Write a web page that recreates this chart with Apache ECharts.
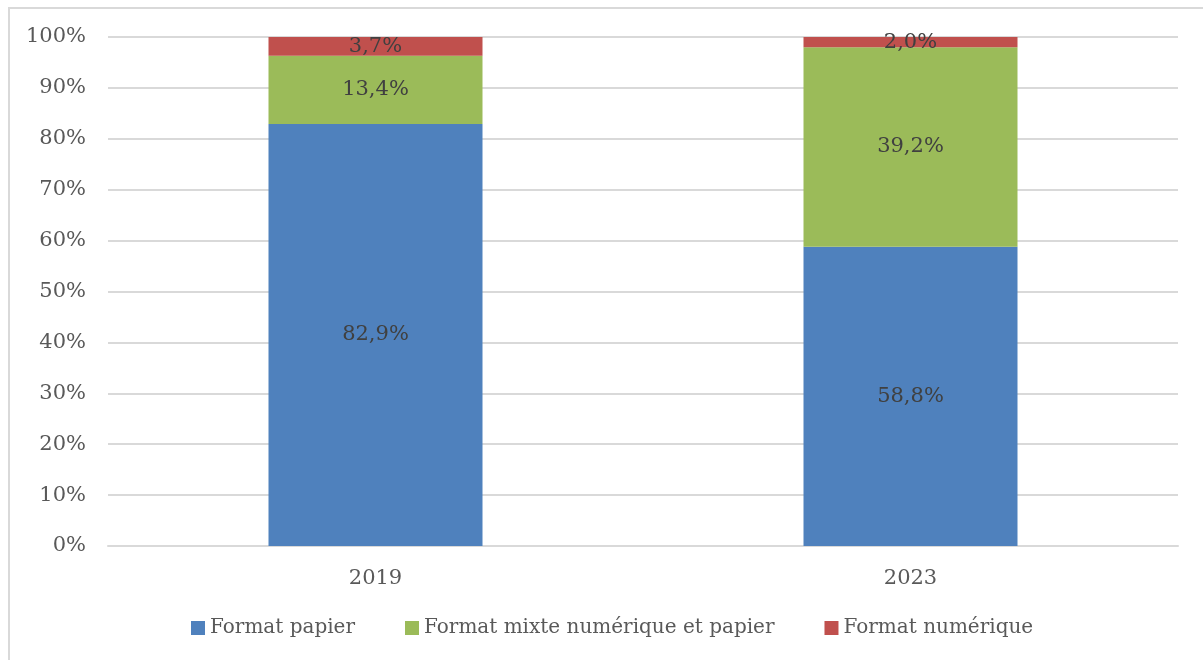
<!DOCTYPE html>
<html><head><meta charset="utf-8">
<script src="https://cdn.jsdelivr.net/npm/echarts@6/dist/echarts.min.js"></script>
<style>
html,body{margin:0;padding:0;background:#fff;overflow:hidden;}
#frame{position:absolute;left:8px;top:7px;width:1300px;height:700px;border:2px solid #d9d9d9;box-sizing:border-box;}
#c{position:absolute;left:0;top:0;width:1203px;height:660px;}
</style></head>
<body>
<div id="frame"></div>
<div id="c"></div>
<script>
const categories = ['2019', '2023'];
const papier = [82.9, 58.8];
const mixte = [13.4, 39.2];
const numerique = [3.7, 2.0];
const seriesNames = ['Format papier', 'Format mixte numérique et papier', 'Format numérique'];
const colors = ['#4f81bd', '#9bbb59', '#c0504d'];

const FONT = '"DejaVu Serif", serif';
const chart = echarts.init(document.getElementById('c'), null, {renderer: 'canvas'});
const fmt = v => v.toFixed(1).replace('.', ',') + '%';
function mk(name, data, color) {
  return {
    name, type: 'bar', stack: 'total', data, barWidth: '40%',
    itemStyle: {color},
    label: {show: true, position: 'inside', formatter: p => fmt(p.value),
      color: '#404040', fontFamily: FONT, fontSize: 21},
    emphasis: {disabled: true}
  };
}
chart.setOption({
  animation: false,
  textStyle: {fontFamily: FONT},
  grid: {left: 108, right: 25, top: 37, bottom: 114, containLabel: false},
  legend: {
    bottom: 17, left: 186, itemWidth: 14, itemHeight: 14, itemGap: 50,
    icon: 'rect',
    textStyle: {fontFamily: FONT, fontSize: 20, color: '#595959'},
    data: seriesNames
  },
  xAxis: {
    type: 'category', data: categories,
    axisLine: {lineStyle: {color: '#d9d9d9', width: 2}},
    axisTick: {show: false},
    axisLabel: {fontFamily: FONT, fontSize: 21, color: '#595959', margin: 22}
  },
  yAxis: {
    type: 'value', min: 0, max: 100, interval: 10,
    axisLine: {show: false}, axisTick: {show: false},
    splitLine: {lineStyle: {color: '#d9d9d9', width: 2}},
    axisLabel: {fontFamily: FONT, fontSize: 21, color: '#595959', margin: 22, formatter: v => v + '%'}
  },
  series: [mk(seriesNames[0], papier, colors[0]), mk(seriesNames[1], mixte, colors[1]), mk(seriesNames[2], numerique, colors[2])]
});
</script>
</body></html>
